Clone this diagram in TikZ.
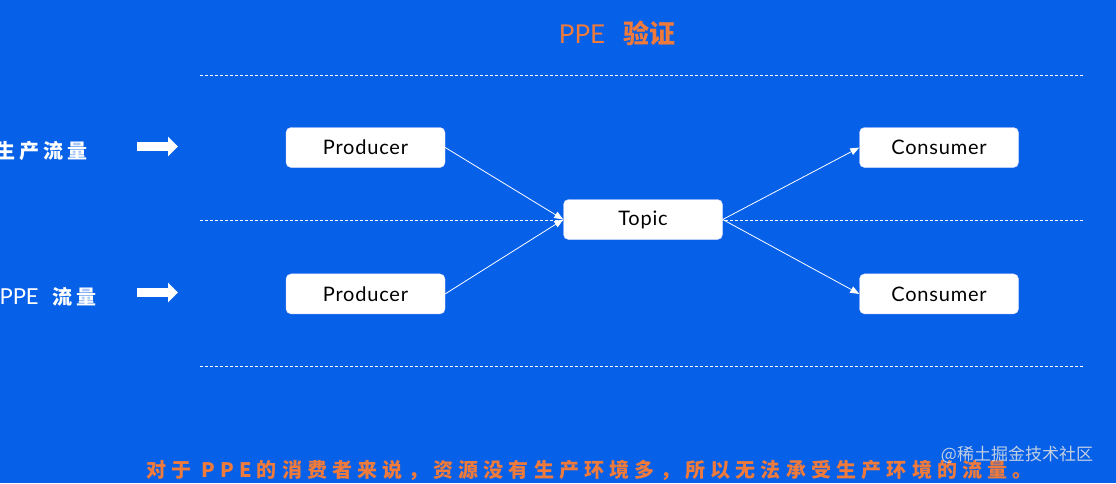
\documentclass[tikz,border=0pt]{standalone}
\usepackage{fontspec}
\setmainfont{Lato}
\newfontfamily\cjk{Noto Sans CJK SC}
\definecolor{bgblau}{RGB}{6,96,232}
\definecolor{ppeorange}{HTML}{EE7A3C}
\usetikzlibrary{arrows.meta, shapes, positioning}

\begin{document}
\begin{tikzpicture}[
    x=1pt, y=-1pt,
    box/.style={rectangle, rounded corners=5pt, draw=blue!15, fill=white,
                minimum width=159pt, minimum height=40pt, inner sep=0pt,
                font=\fontsize{20}{24}\selectfont\addfontfeature{LetterSpace=4}},
    flow/.style={white, line width=9pt, -{Triangle[length=10pt, width=19pt]}},
    lbl/.style={text=white, anchor=west,
                font=\cjk\bfseries\fontsize{20}{24}\selectfont\addfontfeature{LetterSpace=20}},
    headline/.style={text=ppeorange, font=\fontsize{26}{30}\selectfont},
    note/.style={text=ppeorange,
                 font=\cjk\bfseries\fontsize{20}{23}\selectfont\addfontfeature{LetterSpace=26}},
    wmark/.style={text=white!78!gray, opacity=0.85, font=\cjk\fontsize{17}{20}\selectfont},
    arr/.style={-{Triangle[length=9pt, width=7pt]}, white, line width=0.8pt},
    sep/.style={white, line width=0.8pt, dash pattern=on 3pt off 2pt}
  ]
  \fill[bgblau] (0,0) rectangle (1116,483);
  \useasboundingbox (0,0) rectangle (1116,483);

  % dashed separators
  \foreach \y in {75,220,366}
    \draw[sep] (200,\y) -- (1083,\y);

  \node[headline] (title) at (617,33) {PPE\hspace{18pt}{\cjk\bfseries 验证}};

  \node[lbl] (lprod) at (-8,151) {生产流量};
  \node[lbl] (lppe) at (-4,297) {{\normalfont\fontsize{22}{26}\selectfont PPE}\hspace{14pt}流量};
  \coordinate (fprods) at (137,146.5);
  \coordinate (fprode) at (178,146.5);
  \coordinate (fppes) at (137,292.5);
  \coordinate (fppee) at (178,292.5);
  \draw[flow] (fprods) -- (fprode);
  \draw[flow] (fppes) -- (fppee);

  \node[box] (prod1) at (365.5,147.5) {Producer};
  \node[box, below=106pt of prod1] (prod2) {Producer};
  \node[box] (topic) at (643,219.5) {Topic};
  \node[box] (cons1) at (939,147.5) {Consumer};
  \node[box, below=106pt of cons1] (cons2) {Consumer};

  \draw[arr] (prod1.east) -- (topic.west);
  \draw[arr] (prod2.east) -- (topic.west);
  \draw[arr] (topic.east) -- (cons1.west);
  \draw[arr] (topic.east) -- (cons2.west);

  \node[note] (note) at (589.5,470) {对于 PPE的消费者来说，资源没有生产环境多，所以无法承受生产环境的流量。};
  \node[wmark] (wm) at (1017,455) {@稀土掘金技术社区};
\end{tikzpicture}
\end{document}
